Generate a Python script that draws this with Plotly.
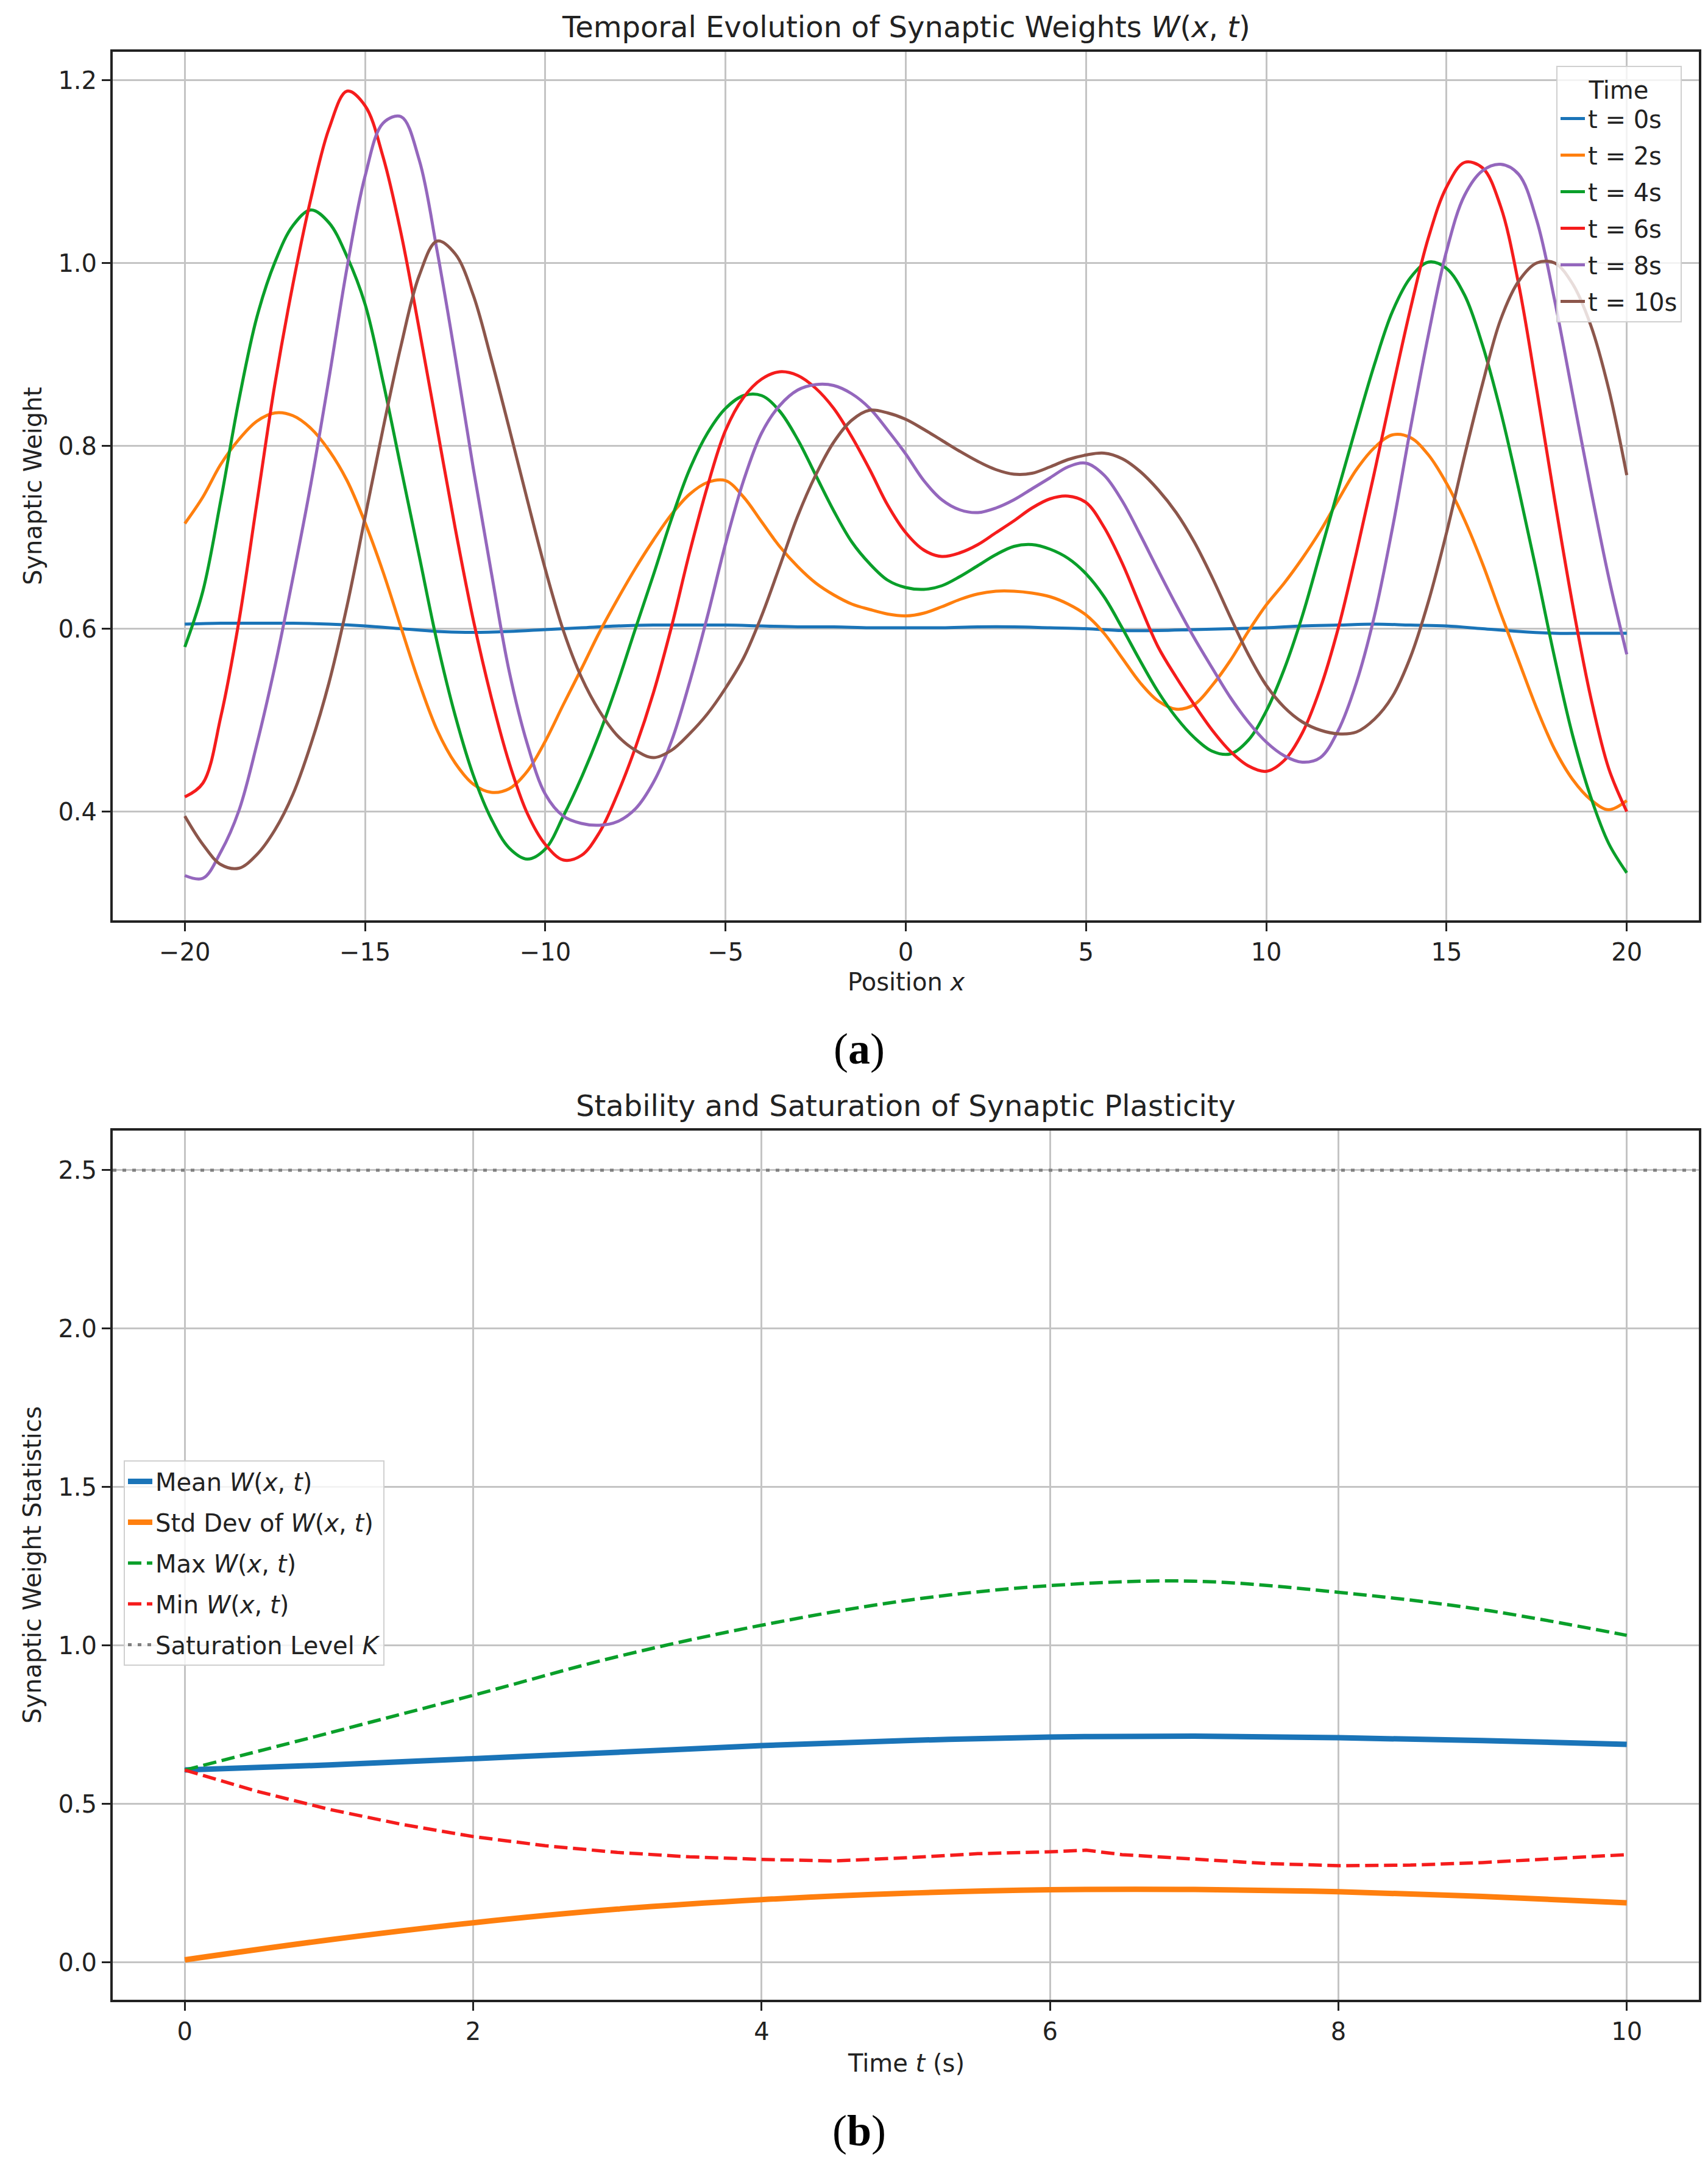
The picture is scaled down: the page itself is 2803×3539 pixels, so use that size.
import plotly.graph_objects as go

W, H = 2803, 3539

# ---------------- Panel (a) data ----------------
# sample positions (every 0.5 in x) at which the curves were read off
x_pos = [i / 2 for i in range(-40, 41)]

x_t0 = list(range(-20, 21))
w_t0 = [0.605, 0.606, 0.606, 0.606, 0.605, 0.603, 0.600, 0.597, 0.596, 0.597,
        0.599, 0.601, 0.603, 0.604, 0.604, 0.604, 0.603, 0.602, 0.602, 0.601,
        0.601, 0.601, 0.602, 0.602, 0.601, 0.600, 0.598, 0.598, 0.599, 0.600,
        0.601, 0.603, 0.604, 0.605, 0.604, 0.603, 0.600, 0.597, 0.595, 0.595, 0.595]

w_t2 = [0.715, 0.744, 0.780, 0.807, 0.827, 0.836, 0.833, 0.819, 0.795, 0.762,
        0.716, 0.662, 0.601, 0.541, 0.489, 0.453, 0.430, 0.421, 0.425, 0.444,
        0.477, 0.517, 0.556, 0.596, 0.632, 0.666,
        0.697, 0.725, 0.747, 0.760, 0.762, 0.744, 0.717, 0.690, 0.668, 0.650,
        0.637, 0.627, 0.621, 0.616, 0.614, 0.617, 0.624, 0.632, 0.638, 0.641,
        0.641, 0.639, 0.635, 0.627, 0.615, 0.595, 0.568, 0.541, 0.521,
        0.512, 0.517, 0.538, 0.565, 0.597, 0.626, 0.650, 0.677, 0.707, 0.741,
        0.774, 0.798, 0.812, 0.809, 0.790, 0.759, 0.719, 0.671, 0.617, 0.565,
        0.513, 0.468, 0.435, 0.413, 0.402, 0.412]

w_t4 = [0.580, 0.641, 0.741, 0.850, 0.941, 1.001, 1.041, 1.058, 1.044, 1.007,
        0.955, 0.870, 0.775, 0.680, 0.585, 0.505, 0.440, 0.392, 0.360, 0.348,
        0.359, 0.395, 0.437, 0.485, 0.540, 0.600,
        0.659, 0.720, 0.774, 0.814, 0.841, 0.855, 0.855, 0.838, 0.807, 0.768,
        0.729, 0.695, 0.671, 0.653, 0.645, 0.643, 0.647, 0.657, 0.669, 0.681,
        0.690, 0.692, 0.687, 0.677, 0.660, 0.635, 0.601, 0.565, 0.531,
        0.503, 0.481, 0.466, 0.463, 0.478, 0.510, 0.556, 0.614, 0.683, 0.753,
        0.822, 0.889, 0.947, 0.984, 1.001, 0.994, 0.965, 0.910, 0.838, 0.753,
        0.662, 0.568, 0.483, 0.416, 0.365, 0.333]

w_t6 = [0.416, 0.431, 0.504, 0.608, 0.738, 0.868, 0.977, 1.071, 1.147, 1.188,
        1.172, 1.116, 1.032, 0.928, 0.819, 0.710, 0.610, 0.525, 0.453, 0.398,
        0.364, 0.347, 0.352, 0.377, 0.419, 0.470,
        0.530, 0.602, 0.683, 0.756, 0.817, 0.853, 0.873, 0.881, 0.877, 0.863,
        0.841, 0.810, 0.774, 0.735, 0.705, 0.686, 0.679, 0.683, 0.692, 0.705,
        0.718, 0.732, 0.742, 0.745, 0.738, 0.711, 0.672, 0.625, 0.580,
        0.547, 0.517, 0.489, 0.466, 0.450, 0.444, 0.456, 0.486, 0.535, 0.601,
        0.683, 0.771, 0.862, 0.950, 1.028, 1.083, 1.110, 1.104, 1.062, 0.977,
        0.862, 0.741, 0.626, 0.525, 0.447, 0.400]

w_t8 = [0.330, 0.327, 0.356, 0.401, 0.474, 0.559, 0.656, 0.759, 0.874, 0.995,
        1.095, 1.153, 1.160, 1.113, 1.013, 0.898, 0.776, 0.662, 0.553, 0.474,
        0.419, 0.395, 0.387, 0.385, 0.389, 0.403,
        0.432, 0.477, 0.541, 0.614, 0.693, 0.762, 0.814, 0.844, 0.861, 0.867,
        0.866, 0.857, 0.841, 0.817, 0.791, 0.762, 0.741, 0.730, 0.727, 0.732,
        0.741, 0.753, 0.765, 0.777, 0.781, 0.768, 0.740, 0.703, 0.664,
        0.626, 0.590, 0.557, 0.525, 0.498, 0.476, 0.461, 0.454, 0.459, 0.489,
        0.541, 0.614, 0.710, 0.819, 0.922, 1.013, 1.074, 1.101, 1.108, 1.097,
        1.047, 0.959, 0.856, 0.753, 0.656, 0.572]

w_t10 = [0.395, 0.364, 0.342, 0.338, 0.353, 0.380, 0.419, 0.474, 0.541, 0.625,
         0.722, 0.819, 0.910, 0.986, 1.024, 1.010, 0.965, 0.895, 0.819, 0.741,
         0.665, 0.598, 0.547, 0.510, 0.483, 0.467,
         0.459, 0.467, 0.485, 0.507, 0.535, 0.568, 0.614, 0.668, 0.723, 0.768,
         0.804, 0.828, 0.839, 0.836, 0.829, 0.818, 0.806, 0.794, 0.783, 0.774,
         0.769, 0.770, 0.777, 0.785, 0.790, 0.792, 0.786, 0.772, 0.752,
         0.727, 0.695, 0.656, 0.613, 0.572, 0.538, 0.514, 0.498, 0.489, 0.485,
         0.487, 0.501, 0.526, 0.569, 0.630, 0.705, 0.789, 0.868, 0.938, 0.980,
         1.000, 1.000, 0.977, 0.932, 0.862, 0.768]

time_labels = ["t = 0s", "t = 2s", "t = 4s", "t = 6s", "t = 8s", "t = 10s"]
colors_a = ["#1a74b8", "#ff7f0e", "#0a9f2a", "#f51c1c", "#9467bd", "#8c564b"]

# ---------------- Panel (b) data ----------------
t_stats = [0, 1, 2, 3, 4, 5, 6, 7, 8, 9, 10]
mean_w = [0.607, 0.623, 0.643, 0.663, 0.684, 0.700, 0.711, 0.714, 0.709, 0.700, 0.688]
std_w = [0.008, 0.071, 0.125, 0.168, 0.198, 0.218, 0.229, 0.230, 0.223, 0.208, 0.188]
max_w = [0.607, 0.724, 0.843, 0.965, 1.064, 1.142, 1.189, 1.203, 1.168, 1.113, 1.032]
t_min = [0, 0.5, 1, 1.5, 2, 2.5, 3, 3.5, 4, 4.5, 5, 5.5, 6, 6.25, 6.5, 7, 7.5, 8, 8.5, 9, 9.5, 10]
min_w = [0.607, 0.540, 0.483, 0.436, 0.397, 0.368, 0.347, 0.333, 0.325, 0.320, 0.330, 0.343,
         0.349, 0.354, 0.340, 0.325, 0.312, 0.305, 0.307, 0.315, 0.327, 0.340]
K_level = 2.5
stat_labels = ["Mean <i>W</i>(<i>x</i>, <i>t</i>)", "Std Dev of <i>W</i>(<i>x</i>, <i>t</i>)",
               "Max <i>W</i>(<i>x</i>, <i>t</i>)", "Min <i>W</i>(<i>x</i>, <i>t</i>)",
               "Saturation Level <i>K</i>"]

FONT = "DejaVu Sans"
fig = go.Figure()

xs_a = [x_t0, x_pos, x_pos, x_pos, x_pos, x_pos]
ws_a = [w_t0, w_t2, w_t4, w_t6, w_t8, w_t10]
for i, (xv, wv, name, c) in enumerate(zip(xs_a, ws_a, time_labels, colors_a)):
    fig.add_trace(go.Scatter(x=xv, y=wv, mode="lines", name=name, legendgroup=f"a{i}",
                             line=dict(color=c, width=5, shape="spline", smoothing=1.0),
                             xaxis="x", yaxis="y", legend="legend"))

fig.add_trace(go.Scatter(x=t_stats, y=mean_w, mode="lines", name=stat_labels[0], legendgroup="b0",
                         line=dict(color="#1a74b8", width=9, shape="spline"),
                         xaxis="x2", yaxis="y2", legend="legend2"))
fig.add_trace(go.Scatter(x=t_stats, y=std_w, mode="lines", name=stat_labels[1], legendgroup="b1",
                         line=dict(color="#ff7f0e", width=9, shape="spline"),
                         xaxis="x2", yaxis="y2", legend="legend2"))
fig.add_trace(go.Scatter(x=t_stats, y=max_w, mode="lines", name=stat_labels[2], legendgroup="b2",
                         line=dict(color="#0a9f2a", width=5.5, dash="22px,9px", shape="spline"),
                         xaxis="x2", yaxis="y2", legend="legend2"))
fig.add_trace(go.Scatter(x=t_min, y=min_w, mode="lines", name=stat_labels[3], legendgroup="b3",
                         line=dict(color="#f51c1c", width=5.5, dash="22px,9px"),
                         xaxis="x2", yaxis="y2", legend="legend2"))
fig.add_trace(go.Scatter(x=[-0.5, 10.5], y=[K_level, K_level], mode="lines", name=stat_labels[4],
                         legendgroup="b4",
                         line=dict(color="#808080", width=5, dash="6px,10px"),
                         xaxis="x2", yaxis="y2", legend="legend2"))

dom_x = [177 / W, 2780 / W]
dom_y1 = [1 - 1502 / H, 1 - 77 / H]
dom_y2 = [1 - 3273 / H, 1 - 1847 / H]

axis_common = dict(showline=True, linecolor="#222222", linewidth=4, mirror=True,
                   showgrid=True, gridcolor="#c4c4c4", gridwidth=3,
                   ticks="outside", ticklen=14, tickwidth=3, tickcolor="#222222",
                   tickfont=dict(family=FONT, size=40, color="#222222"),
                   zeroline=False)

fig.update_layout(
    width=W, height=H,
    margin=dict(l=0, r=0, t=0, b=0),
    paper_bgcolor="white", plot_bgcolor="white",
    xaxis=dict(domain=dom_x, anchor="y", range=[-22, 22], tickmode="linear", tick0=-20, dtick=5,
               **axis_common),
    yaxis=dict(domain=dom_y1, anchor="x", range=[0.281, 1.231], tickmode="linear", tick0=0.4,
               dtick=0.2, tickformat=".1f", **axis_common),
    xaxis2=dict(domain=dom_x, anchor="y2", range=[-0.5, 10.5], tickmode="linear", tick0=0, dtick=2,
                **axis_common),
    yaxis2=dict(domain=dom_y2, anchor="x2", range=[-0.118, 2.625], tickmode="linear", tick0=0,
                dtick=0.5, tickformat=".1f", **axis_common),
    legend=dict(x=2752 / W, y=1 - 100 / H, xanchor="right", yanchor="top",
                bgcolor="rgba(255,255,255,0.8)", bordercolor="#d0d0d0", borderwidth=2,
                tracegroupgap=5, itemwidth=40,
                font=dict(family=FONT, size=40, color="#222222"),
                title=dict(text="Time", side="top center", font=dict(family=FONT, size=40, color="#222222"))),
    legend2=dict(x=195 / W, y=1 - 2388 / H, xanchor="left", yanchor="top",
                 bgcolor="rgba(255,255,255,0.8)", bordercolor="#d0d0d0", borderwidth=2,
                 tracegroupgap=12, itemwidth=40,
                 font=dict(family=FONT, size=40, color="#222222")),
)

ann_font = dict(family=FONT, size=40, color="#222222")
title_font = dict(family=FONT, size=48, color="#222222")
cx = (177 + 2780) / 2 / W
annotations = [
    dict(text="Temporal Evolution of Synaptic Weights <i>W</i>(<i>x</i>, <i>t</i>)", x=cx, y=1 - 36 / H,
         font=title_font),
    dict(text="Stability and Saturation of Synaptic Plasticity", x=cx, y=1 - 1806 / H, font=title_font),
    dict(text="Position <i>x</i>", x=cx, y=1 - 1603 / H, font=ann_font),
    dict(text="Time <i>t</i> (s)", x=cx, y=1 - 3377 / H, font=ann_font),
    dict(text="Synaptic Weight", x=46 / W, y=1 - 790 / H, textangle=-90, font=ann_font),
    dict(text="Synaptic Weight Statistics", x=45 / W, y=1 - 2560 / H, textangle=-90, font=ann_font),
    dict(text="(<b>a</b>)", x=0.5, y=1 - 1713 / H,
         font=dict(family="Liberation Serif", size=72, color="black")),
    dict(text="(<b>b</b>)", x=0.5, y=1 - 3488 / H,
         font=dict(family="Liberation Serif", size=72, color="black")),
]
for a in annotations:
    a.update(xref="paper", yref="paper", showarrow=False, xanchor="center", yanchor="middle")
fig.update_layout(annotations=annotations)

fig.write_html("out.html")
